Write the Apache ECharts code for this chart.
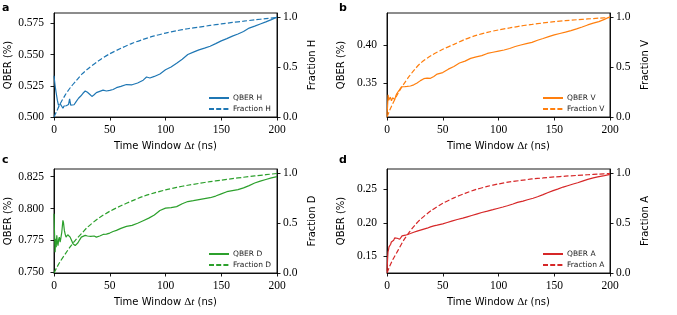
<!DOCTYPE html>
<html><head><meta charset="utf-8">
<script src="https://cdn.jsdelivr.net/npm/echarts@6/dist/echarts.min.js"></script>
<style>html,body{margin:0;padding:0;background:#fff}#c{width:677px;height:315px}</style>
</head><body><div id="c"></div>
<script>
// ---- data ----
const tQH = [0,1,2,3,4,5,6,7,8,9,10,11,12,13,14,15,16,18,20,22,24,26,28,30,32,34,36,38,41,44,47,50,53,56,60,65,70,75,80,83,86,90,95,100,105,110,115,120,125,130,135,140,145,150,155,160,165,170,175,180,185,190,195,200];
const qberH = [0.5330,0.5250,0.5190,0.5135,0.5095,0.5080,0.5100,0.5085,0.5070,0.5088,0.5075,0.5090,0.5078,0.5100,0.5145,0.5095,0.5085,0.5098,0.5125,0.5150,0.5168,0.5190,0.5208,0.5198,0.5182,0.5165,0.5178,0.5195,0.5205,0.5215,0.5208,0.5213,0.5220,0.5235,0.5245,0.5260,0.5258,0.5272,0.5295,0.5320,0.5312,0.5325,0.5345,0.5378,0.5400,0.5430,0.5462,0.5500,0.5520,0.5538,0.5552,0.5567,0.5588,0.5610,0.5628,0.5648,0.5665,0.5685,0.5712,0.5728,0.5745,0.5762,0.5780,0.5800];

const tQV = [0,0.5,1,1.5,2,3,4,4.5,5,6,7,7.5,8,9,10,11,12,13,14,16,18,21,24,27,30,33,36,39,42,45,50,55,60,65,70,75,80,85,90,95,100,105,110,115,120,125,130,135,140,145,150,155,160,165,170,175,180,185,190,195,200];
const qberV = [0.309,0.320,0.335,0.328,0.326,0.332,0.327,0.328,0.331,0.3317,0.329,0.330,0.334,0.337,0.339,0.341,0.3435,0.3455,0.347,0.3457,0.346,0.3465,0.348,0.3505,0.3535,0.356,0.3568,0.3565,0.359,0.362,0.364,0.3685,0.372,0.3765,0.379,0.3826,0.3845,0.3862,0.389,0.3905,0.392,0.3935,0.3955,0.398,0.400,0.4018,0.4035,0.4062,0.4085,0.411,0.4132,0.415,0.4168,0.4188,0.421,0.4235,0.4262,0.4285,0.4305,0.4335,0.437];

const tQD = [0,0.5,1,1.5,2,2.5,3,3.6,4.2,4.8,5.5,6,7,8,8.5,9.3,10,10.8,11.5,12.3,13.5,14.5,16,17,18,19,20,21.5,23,24.5,26,28,30,33,36,38,41,44,47,50,53,56,60,65,70,75,80,85,90,95,100,105,110,115,120,125,130,135,140,145,150,155,160,165,170,175,180,185,190,195,200];
const qberD = [0.796,0.780,0.7658,0.7763,0.7697,0.779,0.774,0.771,0.776,0.7776,0.7737,0.776,0.7816,0.7908,0.789,0.7829,0.780,0.7776,0.7790,0.7795,0.7785,0.7776,0.7745,0.7724,0.7712,0.771,0.7718,0.7732,0.7755,0.7776,0.7780,0.7790,0.7785,0.7782,0.7785,0.7776,0.7785,0.7797,0.7800,0.7808,0.7820,0.7829,0.7845,0.786,0.7868,0.7885,0.7905,0.7925,0.7950,0.7985,0.8003,0.8008,0.8015,0.8038,0.8055,0.8062,0.8070,0.8078,0.8085,0.8098,0.8115,0.8132,0.8140,0.8148,0.8162,0.8180,0.8200,0.8215,0.8228,0.8240,0.8250];

const tQA = [0,0.5,0.9,1.4,1.8,2.3,2.7,3.3,3.9,4.5,5.1,6,6.9,7.6,8.4,9.1,9.9,10.6,11.4,12.4,13.5,15,16.5,18.5,21,24,27,30,33,36,39,42,45,50,54,58,63,68,72,76,81,85,90,95,99,104,108,113,117,122,126,131,135,140,144,149,153,158,162,167,171,176,180,185,189,195,200];
const qberA = [0.1275,0.145,0.1565,0.160,0.164,0.163,0.1665,0.168,0.1715,0.170,0.1705,0.174,0.1775,0.176,0.1755,0.177,0.1775,0.1765,0.1755,0.178,0.1805,0.181,0.1815,0.1825,0.184,0.186,0.1875,0.189,0.1905,0.192,0.194,0.1955,0.1965,0.1985,0.2005,0.2025,0.205,0.207,0.209,0.211,0.2135,0.2155,0.2175,0.2197,0.2215,0.2237,0.2255,0.2282,0.2305,0.2325,0.2345,0.2368,0.239,0.2422,0.245,0.2482,0.2505,0.2535,0.2555,0.258,0.26,0.2628,0.265,0.2672,0.2688,0.2705,0.2725];

const tFrac = [0,2.5,5,10,15,20,25,30,40,50,60,70,80,90,100,110,120,130,140,150,160,170,180,190,200];
const fracH = [0,0.06,0.12,0.22,0.30,0.365,0.43,0.48,0.565,0.635,0.69,0.74,0.78,0.815,0.843,0.867,0.887,0.903,0.92,0.935,0.95,0.963,0.976,0.988,1.0];
const fracV = [0,0.07,0.13,0.24,0.33,0.41,0.48,0.54,0.62,0.68,0.73,0.78,0.82,0.85,0.875,0.895,0.915,0.93,0.945,0.958,0.968,0.977,0.985,0.993,1.0];
const fracD = [0,0.055,0.105,0.19,0.27,0.34,0.40,0.46,0.55,0.62,0.675,0.725,0.77,0.805,0.835,0.86,0.882,0.9,0.918,0.933,0.948,0.962,0.975,0.988,1.0];
const fracA = [0,0.07,0.13,0.23,0.33,0.41,0.48,0.54,0.63,0.70,0.755,0.80,0.84,0.87,0.895,0.915,0.93,0.945,0.955,0.965,0.973,0.98,0.987,0.994,1.0];

const xTicks = [0,50,100,150,200];
const fracTicks = [0,0.5,1.0];
const qTicksH = [0.500,0.525,0.550,0.575];
const qTicksV = [0.35,0.40];
const qTicksD = [0.750,0.775,0.800,0.825];
const qTicksA = [0.15,0.20,0.25];
const panelLetters = ['a','b','c','d'];
const pols = ['H','V','D','A'];
const colors = ['#1f77b4','#ff7f0e','#2ca02c','#d62728'];

// ---- build ----
const panels = [
  {t:tQH,q:qberH,f:fracH,ticks:qTicksH,dec:3,min:0.500,max:0.5833,grid:{left:54,top:13,width:223,height:104},leg:{left:203,top:89}},
  {t:tQV,q:qberV,f:fracV,ticks:qTicksV,dec:2,min:0.306,max:0.4418,grid:{left:387,top:13,width:223,height:104},leg:{left:537,top:89}},
  {t:tQD,q:qberD,f:fracD,ticks:qTicksD,dec:3,min:0.7495,max:0.831,grid:{left:54,top:169,width:223,height:104},leg:{left:203,top:245}},
  {t:tQA,q:qberA,f:fracA,ticks:qTicksA,dec:2,min:0.125,max:0.2805,grid:{left:387,top:169,width:223,height:104},leg:{left:537,top:245}}
];
const serif = 'Liberation Serif';
const sans = 'DejaVu Sans';
const grids=[],xAxes=[],yAxes=[],series=[],legends=[],graphics=[];
const lineCommon = {lineStyle:{color:'#000',width:0.9}};
const tickCommon = {show:true,inside:false,length:3.5,lineStyle:{color:'#000',width:0.9}};
panels.forEach((p,i)=>{
  const pol=pols[i], col=colors[i];
  grids.push(Object.assign({show:true,borderColor:'#000',borderWidth:0.9,backgroundColor:'transparent'},p.grid));
  xAxes.push({type:'value',gridIndex:i,min:0,max:200,interval:50,
    axisLine:Object.assign({show:true,onZero:false},lineCommon),
    axisTick:tickCommon,splitLine:{show:false},
    axisLabel:{fontFamily:serif,fontSize:11.5,color:'#000',margin:7},
    name:'Time Window {d|Δ}{i|t} (ns)',nameLocation:'middle',nameGap:24,
    nameTextStyle:{fontFamily:sans,fontSize:10,color:'#000',
      rich:{d:{fontFamily:serif,fontSize:11,color:'#000'},i:{fontFamily:serif,fontStyle:'italic',fontSize:11,color:'#000'}}}});
  yAxes.push({type:'value',gridIndex:i,position:'left',min:p.min,max:p.max,
    axisLine:Object.assign({show:true,onZero:false},lineCommon),
    axisTick:Object.assign({customValues:p.ticks},tickCommon),splitLine:{show:false},
    axisLabel:{customValues:p.ticks,fontFamily:serif,fontSize:11.5,color:'#000',margin:10,formatter:v=>v.toFixed(p.dec)},
    name:'QBER (%)',nameLocation:'middle',nameRotate:90,nameGap:41,
    nameTextStyle:{fontFamily:sans,fontSize:10,color:'#000'}});
  yAxes.push({type:'value',gridIndex:i,position:'right',min:0,max:1.045,
    axisLine:Object.assign({show:true,onZero:false},lineCommon),
    axisTick:Object.assign({customValues:fracTicks},tickCommon),splitLine:{show:false},
    axisLabel:{customValues:fracTicks,fontFamily:serif,fontSize:11.5,color:'#000',margin:6,formatter:v=>v.toFixed(1)},
    name:'Fraction '+pol,nameLocation:'middle',nameRotate:90,nameGap:30,
    nameTextStyle:{fontFamily:sans,fontSize:10,color:'#000'}});
  series.push({type:'line',name:'QBER '+pol,xAxisIndex:i,yAxisIndex:2*i,symbol:'none',showSymbol:false,
    lineStyle:{color:col,width:1.2},itemStyle:{color:col},data:p.t.map((t,k)=>[t,p.q[k]]),animation:false,z:3});
  series.push({type:'line',name:'Fraction '+pol,xAxisIndex:i,yAxisIndex:2*i+1,symbol:'none',showSymbol:false,smooth:0.3,
    lineStyle:{color:col,width:1.2,type:[5,2.2]},itemStyle:{color:col},data:tFrac.map((t,k)=>[t,p.f[k]]),animation:false,z:2});
  legends.push({orient:'vertical',left:p.leg.left,top:p.leg.top,itemWidth:20,itemHeight:8,itemGap:3,
    itemStyle:{opacity:0},
    data:['QBER '+pol,'Fraction '+pol],textStyle:{fontFamily:sans,fontSize:7.5,color:'#222',padding:[0,0,0,-1]},
    selectedMode:false});
  const lx = i%2===0?2:339, ly = i<2?9.5:161.5;
  graphics.push({type:'text',left:lx,top:ly-7,style:{text:panelLetters[i],font:'bold 11px "DejaVu Sans"',fill:'#000'}});
});
const chart = echarts.init(document.getElementById('c'),null,{renderer:'canvas'});
chart.setOption({animation:false,grid:grids,xAxis:xAxes,yAxis:yAxes,series:series,legend:legends,graphic:graphics});
</script></body></html>
